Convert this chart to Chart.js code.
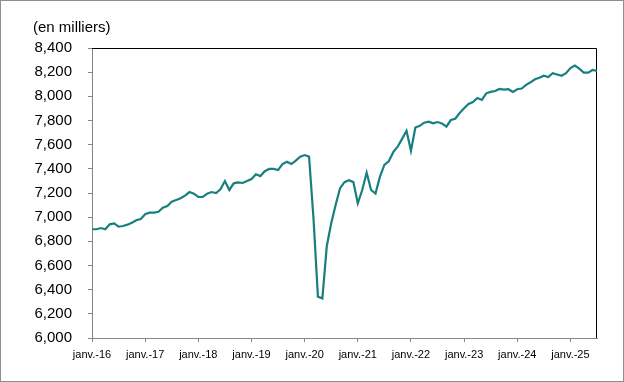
<!DOCTYPE html>
<html><head><meta charset="utf-8">
<script src="https://cdn.jsdelivr.net/npm/chart.js@4.4.1/dist/chart.umd.min.js"></script>
<style>
html,body{margin:0;padding:0;background:#fff;}
#wrap{width:624px;height:382px;box-sizing:border-box;border:1px solid #8f8f8f;background:#fff;}
canvas{display:block;}
</style></head><body>
<div id="wrap"><canvas id="c" width="622" height="380"></canvas></div>
<script>
// ---- data ----
const years = ['16','17','18','19','20','21','22','23','24','25'];
const monthNames = ['janv.','févr.','mars','avr.','mai','juin','juil.','août','sept.','oct.','nov.','déc.'];
const tickLabels = ['janv.-16','janv.-17','janv.-18','janv.-19','janv.-20','janv.-21','janv.-22','janv.-23','janv.-24','janv.-25'];
const yTicks = [6000,6200,6400,6600,6800,7000,7200,7400,7600,7800,8000,8200,8400];
const v2016 = [6900,6900,6910,6900,6941,6948,6921,6927,6938,6954,6974,6985];
const v2017 = [7024,7037,7037,7045,7078,7092,7128,7142,7156,7178,7208,7194];
const v2018 = [7167,7167,7194,7208,7200,7230,7299,7225,7280,7288,7283,7299];
const v2019 = [7316,7355,7340,7380,7399,7399,7390,7440,7459,7440,7468,7501];
const v2020 = [7514,7501,6990,6342,6328,6760,6950,7100,7240,7290,7305,7290];
const v2021 = [7115,7225,7368,7225,7195,7335,7432,7462,7538,7583,7648,7715];
const v2022 = [7549,7742,7756,7782,7790,7776,7787,7776,7749,7804,7815,7862];
const v2023 = [7901,7937,7953,7986,7970,8025,8037,8044,8061,8055,8059,8036];
const v2024 = [8059,8065,8095,8116,8141,8153,8170,8160,8192,8181,8170,8191];
const v2025 = [8234,8254,8229,8196,8196,8218,8210];

const values = [].concat(v2016,v2017,v2018,v2019,v2020,v2021,v2022,v2023,v2024,v2025);
const categories = [];
years.forEach(y => monthNames.forEach(m => categories.push(m + '-' + y)));
categories.length = values.length;

// ---- styles ----
const AXIS = '#868686';
const TEXT = '#000000';
const LINE = '#17807E';
const FONT = "'Liberation Sans', Arial, sans-serif";

const frame = {
  id: 'frame',
  beforeDatasetsDraw(chart) {
    const a = chart.chartArea, ctx = chart.ctx;
    ctx.save();
    ctx.strokeStyle = '#000';
    ctx.lineWidth = 1;
    ctx.beginPath();
    const t = Math.round(a.top) + 0.5, r = Math.round(a.right) - 0.5;
    ctx.moveTo(Math.round(a.left), t);
    ctx.lineTo(r, t);
    ctx.lineTo(r, Math.round(a.bottom));
    ctx.stroke();
    ctx.restore();
  }
};

new Chart(document.getElementById('c'), {
  type: 'line',
  data: {
    labels: categories,
    datasets: [{
      data: values,
      borderColor: LINE,
      borderWidth: 2.2,
      pointRadius: 0,
      tension: 0,
      fill: false
    }]
  },
  options: {
    responsive: false,
    animation: false,
    devicePixelRatio: 1,
    layout: { padding: { left: 32, right: 26, top: 0, bottom: 0 } },
    plugins: {
      legend: { display: false },
      tooltip: { enabled: false },
      title: {
        display: true,
        text: '(en milliers)',
        align: 'start',
        color: TEXT,
        font: { family: FONT, size: 15, weight: 'normal' },
        padding: { top: 18, bottom: 11 }
      }
    },
    scales: {
      x: {
        type: 'category',
        offset: false,
        border: { display: true, color: AXIS, width: 1 },
        grid: {
          drawOnChartArea: false,
          drawTicks: true,
          tickLength: 4,
          color: ctx => (ctx.index % 12 === 0 ? AXIS : 'rgba(0,0,0,0)')
        },
        ticks: {
          autoSkip: false,
          maxRotation: 0,
          minRotation: 0,
          padding: 6,
          color: TEXT,
          font: { family: FONT, size: 11 },
          callback: (val, idx) => (idx % 12 === 0 ? tickLabels[idx / 12] : '')
        },
        afterFit: s => { s.height = 43; }
      },
      y: {
        min: yTicks[0],
        max: yTicks[yTicks.length - 1],
        border: { display: true, color: AXIS, width: 1 },
        grid: { drawOnChartArea: false, drawTicks: true, tickLength: 4, color: AXIS },
        afterBuildTicks: s => { s.ticks = yTicks.map(v => ({ value: v })); },
        ticks: {
          padding: 16,
          color: TEXT,
          font: { family: FONT, size: 15 },
          callback: v => v.toLocaleString('en-US')
        },
        afterFit: s => { s.width = 59; }
      }
    }
  },
  plugins: [frame]
});
</script>
</body></html>
